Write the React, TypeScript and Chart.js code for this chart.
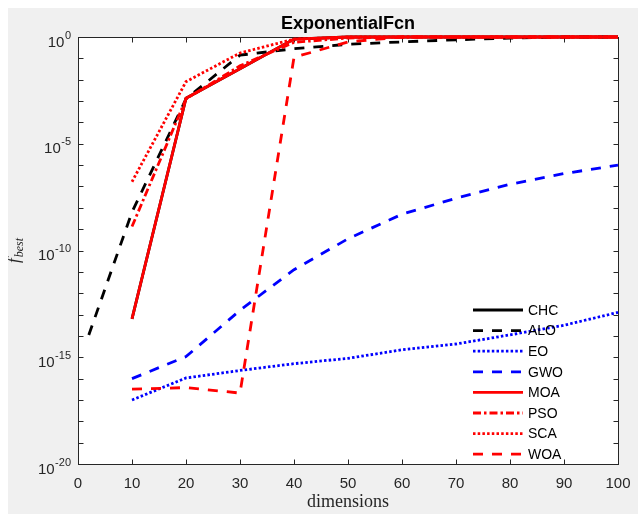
import React, { useEffect, useRef } from 'react';
import { Chart, registerables } from 'chart.js';

Chart.register(...registerables);

// ---------- data ----------
const TITLE = 'ExponentialFcn';
const X_LABEL = 'dimensions';
const Y_LABEL_MAIN = 'f';
const Y_LABEL_SUB = 'best';

const seriesNames = ['CHC', 'ALO', 'EO', 'GWO', 'MOA', 'PSO', 'SCA', 'WOA'];

const dims = [10, 20, 30, 40, 50, 60, 70, 80, 90, 100];
const aloDims = [2, 10, 20, 30, 40, 50, 60, 70, 80, 90, 100];

const chcValues = [6.3e-14, 1.35e-3, 0.0324, 0.794, 1, 1, 1, 1, 1, 1];
const aloValues = [1.1e-14, 6.3e-9, 1.26e-3, 0.141, 0.282, 0.457, 0.589, 0.741, 0.891, 1, 1];
const eoValues = [1.0e-17, 1.07e-16, 2.4e-16, 5.0e-16, 8.9e-16, 2.24e-15, 4.17e-15, 1.12e-14, 3.16e-14, 1.26e-13];
const gwoValues = [1.0e-16, 1.07e-15, 1.58e-13, 1.26e-11, 3.55e-10, 5.0e-9, 2.8e-8, 1.26e-7, 4.0e-7, 1.0e-6];
const moaValues = [6.3e-14, 1.35e-3, 0.0324, 0.794, 1, 1, 1, 1, 1, 1];
const psoValues = [1.32e-9, 1.26e-3, 0.0447, 0.562, 0.891, 1, 1, 1, 1, 1];
const scaValues = [1.66e-7, 8.1e-3, 0.178, 0.794, 1, 1, 1, 1, 1, 1];
const woaValues = [3.2e-17, 3.8e-17, 2.1e-17, 0.112, 0.589, 1, 1, 1, 1, 1];

const xTickValues = [0, 10, 20, 30, 40, 50, 60, 70, 80, 90, 100];
const yLabelExponents = [0, -5, -10, -15, -20];
const yMinorExponents = [0, -1, -2, -3, -4, -5, -6, -7, -8, -9, -10, -11, -12, -13, -14, -15, -16, -17, -18, -19, -20];

// ---------- styles ----------
const SANS = '"Liberation Sans", Arial, Helvetica, sans-serif';
const SERIF = '"Liberation Serif", "Times New Roman", serif';
const AXIS_COLOR = '#262626';
const LINE_W = 2.8;
const DASHED = [10, 9];
const DOTTED = [2.5, 2.2];
const DASHDOT = [8, 3, 2.5, 3];

const seriesStyles = [
  { color: '#000000', dash: [] as number[] },
  { color: '#000000', dash: DASHED },
  { color: '#0000ff', dash: DOTTED },
  { color: '#0000ff', dash: DASHED },
  { color: '#ff0000', dash: [] as number[] },
  { color: '#ff0000', dash: DASHDOT },
  { color: '#ff0000', dash: DOTTED },
  { color: '#ff0000', dash: DASHED },
];

const seriesData = [
  { xs: dims, ys: chcValues },
  { xs: aloDims, ys: aloValues },
  { xs: dims, ys: eoValues },
  { xs: dims, ys: gwoValues },
  { xs: dims, ys: moaValues },
  { xs: dims, ys: psoValues },
  { xs: dims, ys: scaValues },
  { xs: dims, ys: woaValues },
];

const matlabPlugin = {
  id: 'matlabLook',
  beforeDraw(chart: any) {
    const { ctx, chartArea: a } = chart;
    ctx.save();
    ctx.fillStyle = '#ffffff';
    ctx.fillRect(a.left, a.top, a.right - a.left, a.bottom - a.top);
    ctx.restore();
  },
  beforeDatasetsDraw(chart: any) {
    const { ctx, chartArea: a, scales } = chart;
    const xs = scales.x;
    const ys = scales.y;
    const L = Math.round(a.left) + 0.5;
    const R = Math.round(a.right) + 0.5;
    const T = Math.round(a.top) + 0.5;
    const B = Math.round(a.bottom) + 0.5;
    ctx.save();
    ctx.strokeStyle = AXIS_COLOR;
    ctx.lineWidth = 1;
    ctx.setLineDash([]);
    ctx.strokeRect(L, T, R - L, B - T);
    const tl = 5;
    ctx.beginPath();
    xTickValues.forEach((v) => {
      const px = Math.round(xs.getPixelForValue(v)) + 0.5;
      ctx.moveTo(px, B);
      ctx.lineTo(px, B - tl);
      ctx.moveTo(px, T);
      ctx.lineTo(px, T + tl);
    });
    yMinorExponents.forEach((e) => {
      const py = Math.round(ys.getPixelForValue(Math.pow(10, e))) + 0.5;
      ctx.moveTo(L, py);
      ctx.lineTo(L + tl, py);
      ctx.moveTo(R, py);
      ctx.lineTo(R - tl, py);
    });
    ctx.stroke();
    ctx.restore();
  },
  afterDraw(chart: any) {
    const { ctx, chartArea: a, scales } = chart;
    const xs = scales.x;
    const ys = scales.y;
    ctx.save();
    ctx.fillStyle = AXIS_COLOR;
    ctx.setLineDash([]);

    // x tick labels
    ctx.font = `15px ${SANS}`;
    ctx.textAlign = 'center';
    ctx.textBaseline = 'alphabetic';
    xTickValues.forEach((v) => {
      ctx.fillText(String(v), xs.getPixelForValue(v), a.bottom + 24);
    });

    // y tick labels with superscripts
    const rightEdge = a.left - 7;
    yLabelExponents.forEach((e) => {
      const py = ys.getPixelForValue(Math.pow(10, e));
      const expText = String(e);
      ctx.font = `11px ${SANS}`;
      const ew = ctx.measureText(expText).width;
      ctx.textAlign = 'left';
      ctx.fillText(expText, rightEdge - ew, py + 1.5);
      ctx.font = `15px ${SANS}`;
      ctx.textAlign = 'right';
      ctx.fillText('10', rightEdge - ew - 0.5, py + 9.5);
    });

    // title
    ctx.fillStyle = '#000000';
    ctx.font = `bold 18px ${SANS}`;
    ctx.textAlign = 'center';
    ctx.fillText(TITLE, (a.left + a.right) / 2, a.top - 8);

    // x label
    ctx.fillStyle = AXIS_COLOR;
    ctx.font = `18px ${SERIF}`;
    ctx.fillText(X_LABEL, (a.left + a.right) / 2, a.bottom + 43);

    // y label  f_best
    ctx.save();
    ctx.translate(11, (a.top + a.bottom) / 2);
    ctx.rotate(-Math.PI / 2);
    ctx.font = `italic 17px ${SERIF}`;
    const fw = ctx.measureText(Y_LABEL_MAIN).width;
    ctx.font = `italic 12px ${SERIF}`;
    const bw = ctx.measureText(Y_LABEL_SUB).width;
    const total = fw + 1 + bw;
    ctx.textAlign = 'left';
    ctx.font = `italic 17px ${SERIF}`;
    ctx.fillText(Y_LABEL_MAIN, -total / 2, 0);
    ctx.font = `italic 12px ${SERIF}`;
    ctx.fillText(Y_LABEL_SUB, -total / 2 + fw + 1, 4);
    ctx.restore();

    // legend
    const lx0 = 465;
    const lx1 = 515;
    const tx = 520;
    const top = 302;
    const step = 20.6;
    seriesNames.forEach((name, i) => {
      const y = top + i * step;
      const st = seriesStyles[i];
      ctx.beginPath();
      ctx.strokeStyle = st.color;
      ctx.lineWidth = LINE_W;
      ctx.setLineDash(st.dash);
      ctx.moveTo(lx0, y);
      ctx.lineTo(lx1, y);
      ctx.stroke();
      ctx.setLineDash([]);
      ctx.fillStyle = '#000000';
      ctx.font = `14px ${SANS}`;
      ctx.textAlign = 'left';
      ctx.textBaseline = 'middle';
      ctx.fillText(name, tx, y + 1);
    });
    ctx.restore();
  },
};

export default function App() {
  const canvasRef = useRef<HTMLCanvasElement | null>(null);

  useEffect(() => {
    const canvas = canvasRef.current;
    if (!canvas) return;
    const n = seriesNames.length;
    const datasets = seriesNames.map((name, i) => ({
      label: name,
      data: seriesData[i].xs.map((x, k) => ({ x, y: seriesData[i].ys[k] })),
      borderColor: seriesStyles[i].color,
      backgroundColor: seriesStyles[i].color,
      borderDash: seriesStyles[i].dash,
      borderWidth: LINE_W,
      pointRadius: 0,
      tension: 0,
      fill: false,
      clip: 6,
      order: n - 1 - i,
    }));

    const chart = new Chart(canvas, {
      type: 'line',
      data: { datasets },
      plugins: [matlabPlugin],
      options: {
        animation: false,
        responsive: false,
        devicePixelRatio: 1,
        layout: { padding: { left: 0, right: 20, top: 29, bottom: 0 } },
        plugins: {
          legend: { display: false },
          title: { display: false },
          tooltip: { enabled: false },
        },
        scales: {
          x: {
            type: 'linear',
            min: 0,
            max: 100,
            grid: { display: false },
            border: { display: false },
            ticks: { display: false },
            afterFit: (scale: any) => {
              scale.height = 50;
            },
          },
          y: {
            type: 'logarithmic',
            min: 1e-20,
            max: 1,
            grid: { display: false },
            border: { display: false },
            ticks: { display: false },
            afterFit: (scale: any) => {
              scale.width = 70;
            },
          },
        },
      } as any,
    });

    return () => {
      chart.destroy();
    };
  }, []);

  return (
    <div
      style={{
        position: 'fixed',
        left: 8,
        top: 8,
        width: 630,
        height: 506,
        background: '#f0f0f0',
      }}
    >
      <canvas ref={canvasRef} width={630} height={506} style={{ display: 'block', width: 630, height: 506 }} />
    </div>
  );
}
